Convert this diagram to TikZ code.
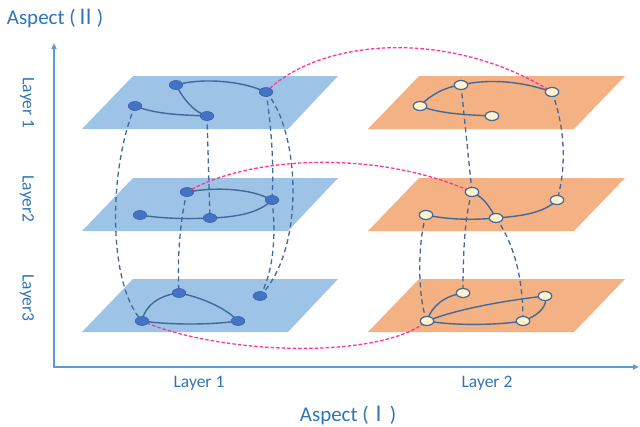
\documentclass[tikz,border=0pt]{standalone}
\usepackage{fontspec}
\setmainfont{Carlito}
\newfontfamily\cjk{Noto Sans CJK SC}
\usetikzlibrary{shapes.geometric,arrows.meta}
\pgfdeclarelayer{planes}
\pgfdeclarelayer{edges}
\pgfsetlayers{planes,edges,main}
\definecolor{planeblue}{HTML}{9DC3E6}
\definecolor{planeorange}{HTML}{F4B183}
\definecolor{nodeblue}{HTML}{4472C4}
\definecolor{nodeblueline}{HTML}{3A62A8}
\definecolor{cream}{HTML}{FFF2CC}
\definecolor{edgecol}{HTML}{41699A}
\definecolor{axiscol}{HTML}{5B9BD5}
\definecolor{textcol}{HTML}{2E75B6}
\definecolor{pinkcol}{HTML}{FF3399}
\tikzset{
  bnode/.style={ellipse, minimum width=13.5pt, minimum height=9pt, inner sep=0pt, fill=nodeblue, draw=nodeblueline, line width=0.6pt},
  wnode/.style={ellipse, minimum width=13.5pt, minimum height=9pt, inner sep=0pt, fill=cream, draw=edgecol, line width=1.2pt},
  gedge/.style={draw=edgecol, line width=1.4pt},
  vlink/.style={draw=edgecol, line width=1.3pt, dash pattern=on 5pt off 3.5pt},
  plink/.style={draw=pinkcol, line width=1.3pt, dash pattern=on 3.5pt off 2pt},
  lbl/.style={text=textcol, font=\fontsize{17.5}{20}\selectfont, inner sep=0pt},
  asp/.style={text=textcol, font=\fontsize{21}{24}\selectfont, inner sep=0pt},
  axisline/.style={draw=axiscol, line width=1.5pt}
}
\begin{document}
\begin{tikzpicture}[x=1pt,y=-1pt]
\useasboundingbox (0,0) rectangle (640,426);

% planes
\begin{pgfonlayer}{planes}
\foreach \yt/\yb in {76/129,178/231,279/332}{
  \fill[planeblue] (82,\yb) -- (288,\yb) -- (338,\yt) -- (133,\yt) -- cycle;
  \fill[planeorange] (368,\yb) -- (574,\yb) -- (625,\yt) -- (419,\yt) -- cycle;
}
\end{pgfonlayer}

% axes
\coordinate (ytop) at (54,43);
\coordinate (orig) at (54,367);
\coordinate (xend) at (639,367);
\draw[axisline, arrows={Triangle[length=6pt,width=5pt]-Triangle[length=6pt,width=5pt]}] (ytop) -- (orig) -- (xend);

% labels
\node[asp] (asp2) at (55,19) {Aspect ({\cjk Ⅱ})};
\node[asp] (asp1) at (348,415) {Aspect ({\cjk Ⅰ})};
\node[lbl] (xl1) at (199,383) {Layer 1};
\node[lbl] (xl2) at (487,383) {Layer 2};
\node[lbl, rotate=-90] (yl1) at (27,103) {Layer 1};
\node[lbl, rotate=-90] (yl2) at (27,199) {Layer2};
\node[lbl, rotate=-90] (yl3) at (27,298) {Layer3};

% blue nodes
\node[bnode] (A1) at (176,85) {};
\node[bnode] (B1) at (135,106) {};
\node[bnode] (C1) at (207,116) {};
\node[bnode] (D1) at (266,92) {};
\node[bnode] (E2) at (187,192) {};
\node[bnode] (F2) at (272,200) {};
\node[bnode] (G2) at (140,215) {};
\node[bnode] (H2) at (210,218) {};
\node[bnode] (I3) at (179,293) {};
\node[bnode] (J3) at (260,296) {};
\node[bnode] (K3) at (142,321) {};
\node[bnode] (L3) at (238,321) {};

% orange-side nodes
\node[wnode] (P1) at (461,85) {};
\node[wnode] (Q1) at (420,106) {};
\node[wnode] (R1) at (492,116) {};
\node[wnode] (S1) at (552,92) {};
\node[wnode] (T2) at (472,192) {};
\node[wnode] (U2) at (557,200) {};
\node[wnode] (V2) at (426,215) {};
\node[wnode] (W2) at (496,218) {};
\node[wnode] (X3) at (463,293) {};
\node[wnode] (Y3) at (545,296) {};
\node[wnode] (Z3) at (427,321) {};
\node[wnode] (AA3) at (523,321) {};

\begin{pgfonlayer}{edges}
% blue graph edges
\draw[gedge] (A1.center) .. controls (200,78) and (240,80) .. (D1.center);
\draw[gedge] (A1.center) .. controls (184,100) and (194,112) .. (C1.center);
\draw[gedge] (B1.center) .. controls (158,115) and (185,115) .. (C1.center);
\draw[gedge] (E2.center) .. controls (215,187) and (250,188) .. (F2.center);
\draw[gedge] (G2.center) .. controls (165,219) and (190,219) .. (H2.center);
\draw[gedge] (H2.center) .. controls (245,217) and (262,210) .. (F2.center);
\draw[gedge] (K3.center) .. controls (145,305) and (160,295) .. (I3.center);
\draw[gedge] (I3.center) .. controls (205,298) and (228,310) .. (L3.center);
\draw[gedge] (K3.center) .. controls (170,325) and (210,325) .. (L3.center);
% orange graph edges
\draw[gedge] (Q1.center) .. controls (430,95) and (445,87) .. (P1.center);
\draw[gedge] (P1.center) .. controls (490,78) and (525,82) .. (S1.center);
\draw[gedge] (Q1.center) .. controls (440,114) and (470,115) .. (R1.center);
\draw[gedge] (T2.center) .. controls (485,198) and (490,208) .. (W2.center);
\draw[gedge] (V2.center) .. controls (450,220) and (475,220) .. (W2.center);
\draw[gedge] (W2.center) .. controls (525,216) and (545,212) .. (U2.center);
\draw[gedge] (Z3.center) .. controls (432,305) and (445,296) .. (X3.center);
\draw[gedge] (Z3.center) .. controls (460,308) and (510,300) .. (Y3.center);
\draw[gedge] (Z3.center) .. controls (455,326) and (500,325) .. (AA3.center);
\draw[gedge] (AA3.center) .. controls (540,315) and (548,305) .. (Y3.center);
% vertical dashed links, blue side
\draw[vlink] (B1.center) .. controls (108,170) and (108,285) .. (K3.center);
\draw[vlink] (C1.center) -- (H2.center);
\draw[vlink] (D1.center) .. controls (272,130) and (274,170) .. (F2.center);
\draw[vlink] (D1.center) .. controls (300,130) and (306,250) .. (J3.center);
\draw[vlink] (E2.center) .. controls (180,220) and (177,260) .. (I3.center);
\draw[vlink] (F2.center) .. controls (277,240) and (272,275) .. (J3.center);
% vertical dashed links, orange side
\draw[vlink] (P1.center) -- (T2.center);
\draw[vlink] (S1.center) .. controls (566,130) and (566,170) .. (U2.center);
\draw[vlink] (T2.center) .. controls (465,215) and (463,250) .. (X3.center);
\draw[vlink] (V2.center) .. controls (417,245) and (418,300) .. (Z3.center);
\draw[vlink] (W2.center) .. controls (515,245) and (523,280) .. (AA3.center);
% pink inter-layer links
\draw[plink] (D1.center) .. controls (320,38) and (450,28) .. (S1.center);
\draw[plink] (E2.center) .. controls (250,155) and (380,150) .. (T2.center);
\draw[plink] (K3.center) .. controls (220,355) and (380,360) .. (Z3.center);
\end{pgfonlayer}
\end{tikzpicture}
\end{document}
